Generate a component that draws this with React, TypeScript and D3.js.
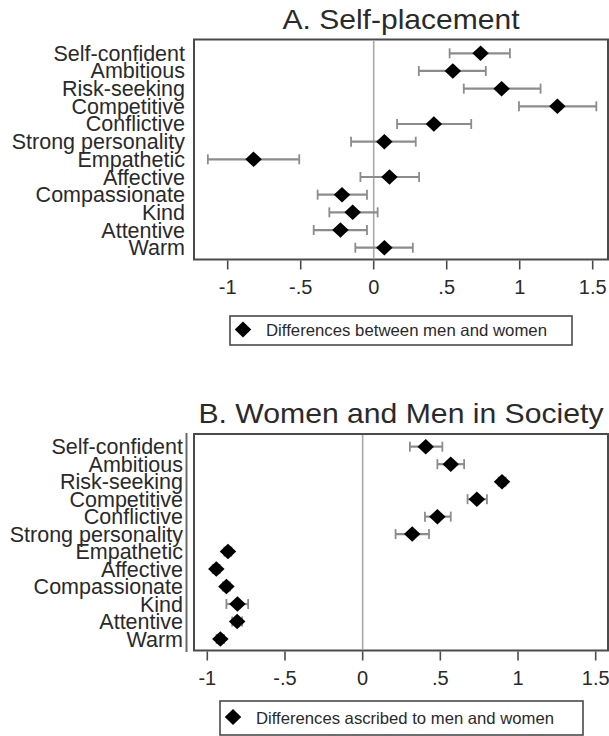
import React from "react";
import * as d3 from "d3";

const categories = [
  "Self-confident", "Ambitious", "Risk-seeking", "Competitive", "Conflictive",
  "Strong personality", "Empathetic", "Affective", "Compassionate", "Kind",
  "Attentive", "Warm",
];

// Panel A: Self-placement (estimate, lower CI, upper CI)
const selfEst = [0.732, 0.542, 0.876, 1.258, 0.412, 0.073, -0.823, 0.108, -0.217, -0.144, -0.228, 0.073];
const selfLo = [0.52, 0.309, 0.617, 0.995, 0.16, -0.155, -1.136, -0.091, -0.384, -0.304, -0.411, -0.126];
const selfHi = [0.933, 0.768, 1.143, 1.525, 0.668, 0.288, -0.51, 0.311, -0.046, 0.027, -0.046, 0.268];

// Panel B: Women and Men in Society
const socEst = [0.406, 0.567, 0.897, 0.735, 0.481, 0.319, -0.867, -0.942, -0.877, -0.806, -0.808, -0.916];
const socLo = [0.304, 0.481, 0.875, 0.675, 0.401, 0.212, -0.89, -0.965, -0.9, -0.877, -0.84, -0.94];
const socHi = [0.513, 0.653, 0.92, 0.8, 0.567, 0.427, -0.845, -0.92, -0.855, -0.737, -0.776, -0.893];

const tickValues = [-1, -0.5, 0, 0.5, 1, 1.5];
const tickLabels = ["-1", "-.5", "0", ".5", "1", "1.5"];

const FONT = "'Liberation Sans', Arial, Helvetica, sans-serif";
const TEXT = "#2a2a2a";
const FRAME = "#4a4a4a";
const CI = "#8c8c8c";

function diamond(cx: number, cy: number, w: number, h: number) {
  return `M${cx},${cy - h / 2}L${cx + w / 2},${cy}L${cx},${cy + h / 2}L${cx - w / 2},${cy}Z`;
}

type PanelProps = {
  title: string;
  titleLen: number;
  titleY: number;
  frame: { x0: number; x1: number; y0: number; y1: number };
  xRange: [number, number];
  padTop: number;
  padBottom: number;
  est: number[];
  lo: number[];
  hi: number[];
  labelRight: number;
  extraAxis: boolean;
  legend: { x0: number; x1: number; y0: number; y1: number; text: string; textLen: number };
};

function Panel(p: PanelProps) {
  const { frame } = p;
  const x = d3.scaleLinear().domain([-1, 1.5]).range(p.xRange);
  const y = d3
    .scalePoint<string>()
    .domain(categories)
    .range([frame.y0 + p.padTop, frame.y1 - p.padBottom]);
  const legMidY = (p.legend.y0 + p.legend.y1) / 2;
  return (
    <g>
      <text
        x={(frame.x0 + frame.x1) / 2}
        y={p.titleY}
        textAnchor="middle"
        fontSize={28}
        fontFamily={FONT}
        fill={TEXT}
        textLength={p.titleLen}
        lengthAdjust="spacingAndGlyphs"
      >
        {p.title}
      </text>
      {p.extraAxis && (
        <line x1={frame.x0 - 7.5} x2={frame.x0 - 7.5} y1={frame.y0 - 1} y2={frame.y1 + 1.5} stroke="#6a6a6a" strokeWidth={2} />
      )}
      <rect
        x={frame.x0}
        y={frame.y0}
        width={frame.x1 - frame.x0}
        height={frame.y1 - frame.y0}
        fill="white"
        stroke={FRAME}
        strokeWidth={2}
      />
      <line x1={x(0)} x2={x(0)} y1={frame.y0 + 1} y2={frame.y1 - 1} stroke="#a8a8a8" strokeWidth={1.6} />
      {tickValues.map((t, i) => (
        <g key={t}>
          <line x1={x(t)} x2={x(t)} y1={frame.y1 + 1} y2={frame.y1 + 10} stroke={FRAME} strokeWidth={1.6} />
          <text
            x={x(t)}
            y={frame.y1 + 34}
            textAnchor="middle"
            fontSize={20}
            fontFamily={FONT}
            fill={TEXT}
          >
            {tickLabels[i]}
          </text>
        </g>
      ))}
      {categories.map((c, i) => {
        const yy = y(c) as number;
        const capH = 5;
        return (
          <g key={c}>
            <text
              x={p.labelRight}
              y={yy + 7.5}
              textAnchor="end"
              fontSize={21.5}
              fontFamily={FONT}
              fill={TEXT}
            >
              {c}
            </text>
            <line x1={x(p.lo[i])} x2={x(p.hi[i])} y1={yy} y2={yy} stroke={CI} strokeWidth={2.2} />
            <line x1={x(p.lo[i])} x2={x(p.lo[i])} y1={yy - capH} y2={yy + capH} stroke={CI} strokeWidth={1.8} />
            <line x1={x(p.hi[i])} x2={x(p.hi[i])} y1={yy - capH} y2={yy + capH} stroke={CI} strokeWidth={1.8} />
            <path d={diamond(x(p.est[i]), yy, 16.5, 15.5)} fill="#000" />
          </g>
        );
      })}
      <rect
        x={p.legend.x0}
        y={p.legend.y0}
        width={p.legend.x1 - p.legend.x0}
        height={p.legend.y1 - p.legend.y0}
        fill="white"
        stroke={FRAME}
        strokeWidth={1.6}
      />
      <path d={diamond(p.legend.x0 + 13, legMidY - 1, 16.5, 16)} fill="#000" />
      <text
        x={p.legend.x0 + 36}
        y={legMidY + 5.5}
        fontSize={16.5}
        fontFamily={FONT}
        fill={TEXT}
        textLength={p.legend.textLen}
        lengthAdjust="spacingAndGlyphs"
      >
        {p.legend.text}
      </text>
    </g>
  );
}

export default function App() {
  return (
    <svg width={609} height={736} style={{ position: "absolute", left: 0, top: 0, background: "white" }}>
      <rect x={0} y={0} width={609} height={736} fill="white" />
      <Panel
        title="A. Self-placement"
        titleLen={237}
        titleY={29}
        frame={{ x0: 194, x1: 608, y0: 39.5, y1: 259.5 }}
        xRange={[227.7, 592.7]}
        padTop={13.8}
        padBottom={11.8}
        est={selfEst}
        lo={selfLo}
        hi={selfHi}
        labelRight={185}
        extraAxis={false}
        legend={{ x0: 230, x1: 572, y0: 316, y1: 345, text: "Differences between men and women", textLen: 281 }}
      />
      <Panel
        title="B. Women and Men in Society"
        titleLen={405}
        titleY={423}
        frame={{ x0: 194, x1: 608, y0: 434, y1: 650.5 }}
        xRange={[207.3, 595.7]}
        padTop={12.7}
        padBottom={11.5}
        est={socEst}
        lo={socLo}
        hi={socHi}
        labelRight={183}
        extraAxis={true}
        legend={{ x0: 220, x1: 583, y0: 701, y1: 735, text: "Differences ascribed to men and women", textLen: 298 }}
      />
    </svg>
  );
}
